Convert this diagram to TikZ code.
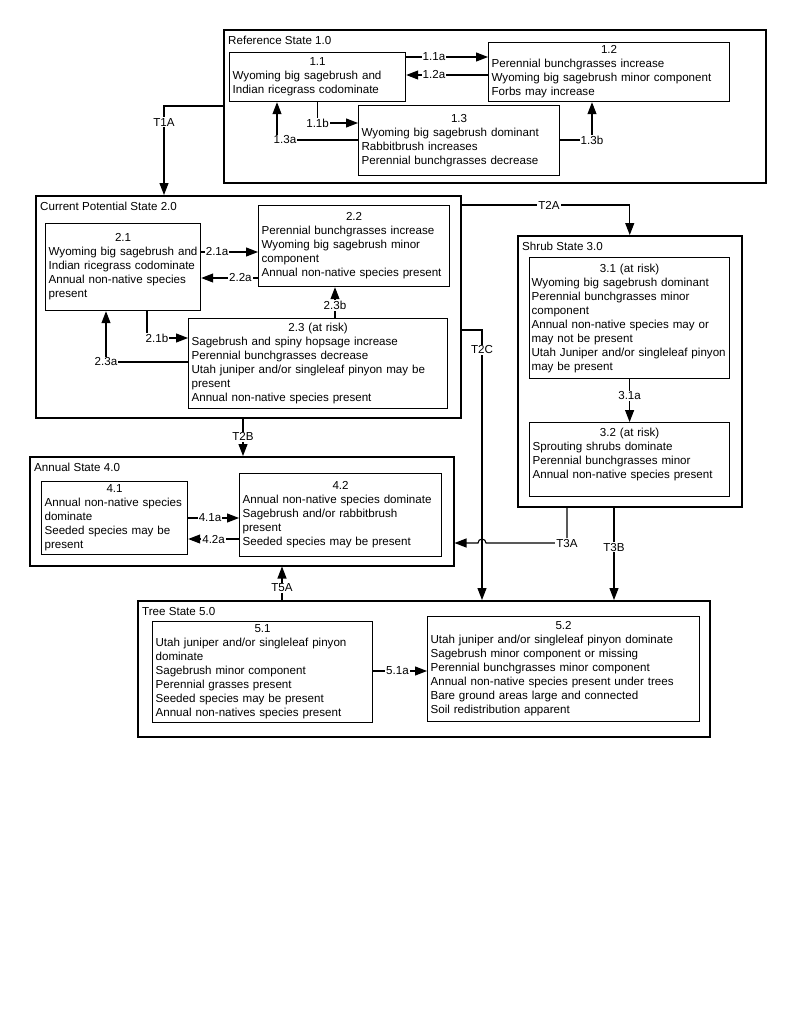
\documentclass[tikz,border=0pt]{standalone}
\usepackage{fontspec}
\setmainfont{Liberation Sans}
\usetikzlibrary{arrows.meta}
\begin{document}
\begin{tikzpicture}[x=1bp, y=-1bp,
	font=\fontsize{11.6bp}{14bp}\selectfont,
	statebox/.style={draw, line width=1.5bp, anchor=north west, inner sep=0pt},
	statetitle/.style={anchor=base west, inner sep=0pt},
	phasebox/.style={draw, line width=1.2bp, anchor=north west, inner xsep=3bp, inner ysep=1bp, align=left},
	arr/.style={line width=1.1bp, -{Triangle[length=12bp, width=9bp]}},
	lab/.style={fill=white, inner sep=1bp}]
	\useasboundingbox (0,0) rectangle (800,1036);

	\node[statebox, minimum width=542bp, minimum height=153bp] (ref) at (223,29) {};
	\node[statetitle] (reft) at ([xshift=5bp, yshift=-15bp]ref.north west) {Reference State 1.0};
	\node[phasebox, text width=170bp, minimum height=49bp] (s11) at (229,52) {\makebox[\linewidth]{1.1}\\Wyoming big sagebrush and\\Indian ricegrass codominate};
	\node[phasebox, text width=235bp, minimum height=59bp] (s12) at (488,42) {\makebox[\linewidth]{1.2}\\Perennial bunchgrasses increase\\Wyoming big sagebrush minor component\\Forbs may increase};
	\node[phasebox, text width=195bp, minimum height=70bp] (s13) at (358,105) {\makebox[\linewidth]{1.3}\\Wyoming big sagebrush dominant\\Rabbitbrush increases\\Perennial bunchgrasses decrease};
	\draw[arr] (s11.east |- 0,57) -- node[lab, pos=.34] {1.1a} (s12.west |- 0,57);
	\draw[arr] (s12.west |- 0,75) -- node[lab, pos=.66] {1.2a} (s11.east |- 0,75);
	\draw[arr] (s11.south) |- node[lab] {1.1b} (s13.west |- 0,123);
	\draw[arr] (s13.west |- 0,140) -| node[lab, xshift=8bp] {1.3a} (s11.south -| 277,0);
	\draw[arr] (s13.east |- 0,140) -| node[lab] {1.3b} (s12.south -| 592,0);

	\node[statebox, minimum width=425bp, minimum height=222bp] (cur) at (35,195) {};
	\node[statetitle] (curt) at ([xshift=5bp, yshift=-15bp]cur.north west) {Current Potential State 2.0};
	\node[phasebox, text width=149bp, minimum height=87bp] (s21) at (45,223) {\makebox[\linewidth]{2.1}\\Wyoming big sagebrush and\\Indian ricegrass codominate\\Annual non-native species\\present};
	\node[phasebox, text width=185bp, minimum height=81bp] (s22) at (258,205) {\makebox[\linewidth]{2.2}\\Perennial bunchgrasses increase\\Wyoming big sagebrush minor\\component\\Annual non-native species present};
	\node[phasebox, text width=253bp, minimum height=90bp] (s23) at (188,318) {\makebox[\linewidth]{2.3 (at risk)}\\Sagebrush and spiny hopsage increase\\Perennial bunchgrasses decrease\\Utah juniper and/or singleleaf pinyon may be\\present\\Annual non-native species present};
	\draw[arr] (s21.east |- 0,252) -- node[lab, pos=.28] {2.1a} (s22.west |- 0,252);
	\draw[arr] (s22.west |- 0,278) -- node[lab, pos=.31] {2.2a} (s21.east |- 0,278);
	\draw[arr] (s23.north -| 335,0) -- node[lab, pos=.4] {2.3b} (s22.south -| 335,0);
	\draw[arr] (s21.south -| 147,0) |- node[lab, xshift=10bp] {2.1b} (s23.west |- 0,338);
	\draw[arr] (s23.west |- 0,362) -| node[lab] {2.3a} (s21.south -| 106,0);

	\node[statebox, minimum width=224bp, minimum height=271bp] (shrub) at (517,235) {};
	\node[statetitle] (shrubt) at ([xshift=5bp, yshift=-15bp]shrub.north west) {Shrub State 3.0};
	\node[phasebox, inner xsep=2bp, text width=196bp, minimum height=121bp] (s31) at (529,257) {\makebox[\linewidth]{3.1 (at risk)}\\Wyoming big sagebrush dominant\\Perennial bunchgrasses minor\\component\\Annual non-native species may or\\may not be present\\\mbox{Utah Juniper and/or singleleaf pinyon}\\may be present};
	\node[phasebox, text width=194bp, minimum height=74bp] (s32) at (529,422) {\makebox[\linewidth]{3.2 (at risk)}\\Sprouting shrubs dominate\\Perennial bunchgrasses minor\\Annual non-native species present\\[-2bp]\mbox{}};
	\draw[arr] (s31.south) -- node[lab, pos=.39] {3.1a} (s32.north);

	\node[statebox, minimum width=424bp, minimum height=109bp] (annual) at (29,456) {};
	\node[statetitle] (annualt) at ([xshift=5bp, yshift=-15bp]annual.north west) {Annual State 4.0};
	\node[phasebox, text width=140bp, minimum height=73bp] (s41) at (41,481) {\makebox[\linewidth]{4.1}\\Annual non-native species\\dominate\\Seeded species may be\\present};
	\node[phasebox, text width=196bp, minimum height=83bp] (s42) at (239,473) {\makebox[\linewidth]{4.2}\\Annual non-native species dominate\\Sagebrush and/or rabbitbrush\\present\\Seeded species may be present};
	\draw[arr] (s41.east |- 0,518) -- node[lab, pos=.43] {4.1a} (s42.west |- 0,518);
	\draw[arr] (s42.west |- 0,539) -- node[lab, pos=.5] {4.2a} (s41.east |- 0,539);

	\node[statebox, minimum width=572bp, minimum height=136bp] (tree) at (137,600) {};
	\node[statetitle] (treet) at ([xshift=5bp, yshift=-15bp]tree.north west) {Tree State 5.0};
	\node[phasebox, text width=214bp, minimum height=101bp] (s51) at (152,621) {\makebox[\linewidth]{5.1}\\Utah juniper and/or singleleaf pinyon\\dominate\\Sagebrush minor component\\Perennial grasses present\\Seeded species may be present\\Annual non-natives species present};
	\node[phasebox, text width=266bp, minimum height=105bp] (s52) at (427,616) {\makebox[\linewidth]{5.2}\\Utah juniper and/or singleleaf pinyon dominate\\Sagebrush minor component or missing\\Perennial bunchgrasses minor component\\Annual non-native species present under trees\\Bare ground areas large and connected\\Soil redistribution apparent};
	\draw[arr] (s51.east |- 0,671) -- node[lab, pos=.45] {5.1a} (s52.west |- 0,671);

	\coordinate (hop) at (482,543);
	\draw[arr] (ref.west |- 0,106) -| node[lab, pos=.59] {T1A} (cur.north -| 164,0);
	\draw[arr] (cur.east |- 0,205) -| node[lab, pos=.26] {T2A} (shrub.north);
	\draw[arr] (cur.south -| 243,0) -- node[lab, pos=.49] {T2B} (annual.north -| 243,0);
	\draw[arr] (cur.east |- 0,330) -| node[lab, pos=.537] {T2C} (tree.north -| hop);
	\draw[arr] (shrub.south -| 567,0) |- node[lab] {T3A} ([xshift=4bp]hop) arc[start angle=0, end angle=180, radius=4bp] -- (annual.east |- hop);
	\draw[arr] (shrub.south -| 614,0) -- node[lab, pos=.43] {T3B} (tree.north -| 614,0);
	\draw[arr] (tree.north -| 282,0) -- node[lab, pos=.37] {T5A} (annual.south -| 282,0);
\end{tikzpicture}
\end{document}
